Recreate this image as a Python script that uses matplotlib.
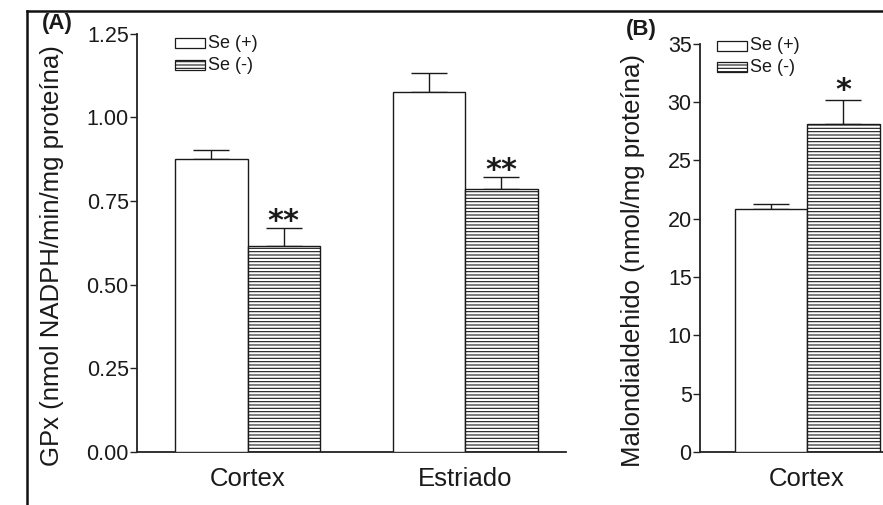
import matplotlib
matplotlib.use("Agg")
import matplotlib.pyplot as plt
from matplotlib.lines import Line2D
from matplotlib.patches import Rectangle
import numpy as np

plt.rcParams['font.family'] = ['Liberation Sans', 'DejaVu Sans']
plt.rcParams['hatch.linewidth'] = 0.8

# ---- data ----
regions_a = ["Cortex", "Estriado"]
gpx_plus = [0.875, 1.075]
gpx_plus_err = [0.027, 0.058]
gpx_minus = [0.615, 0.787]
gpx_minus_err = [0.054, 0.033]
gpx_sig = ["**", "**"]
yticks_a = [0.00, 0.25, 0.50, 0.75, 1.00, 1.25]

regions_b = ["Cortex"]
mda_plus = [20.8]
mda_plus_err = [0.45]
mda_minus = [28.1]
mda_minus_err = [2.1]
mda_sig = ["*"]
yticks_b = [0, 5, 10, 15, 20, 25, 30, 35]

legend_labels = ["Se (+)", "Se (-)"]

W, H = 883, 505
fig = plt.figure(figsize=(W / 100, H / 100), dpi=100)
fig.patch.set_facecolor('white')

def px_axes(left, top, right, bottom):
    return fig.add_axes([left / W, 1 - bottom / H, (right - left) / W, (bottom - top) / H])

bw = 1 / 3.0
px_per_unit = 217.5
INK = '#1a1a1a'

def style(ax, yticks, fmt):
    for s in ['top', 'right']:
        ax.spines[s].set_visible(False)
    for s in ['left', 'bottom']:
        ax.spines[s].set_linewidth(1.3)
        ax.spines[s].set_color('#222222')
    ax.set_yticks(yticks)
    ax.set_yticklabels([fmt.format(v) for v in yticks], fontsize=15.5, color=INK)
    ax.tick_params(axis='y', direction='out', length=5, width=1.0, pad=1, color='#222222')
    ax.tick_params(axis='x', length=0, pad=11)
    ax.set_facecolor('none')

def draw_bars(ax, cats, plus, plus_err, minus, minus_err, sig, sig_off, sig_size):
    x = np.arange(len(cats))
    ax.bar(x - bw / 2, plus, width=bw, color='white', edgecolor=INK, linewidth=1.0, zorder=3)
    ax.bar(x + bw / 2, minus, width=bw, color='white', edgecolor=INK, linewidth=1.0,
           hatch='-----', zorder=3)
    ax.errorbar(x - bw / 2, plus, yerr=[np.zeros(len(x)), plus_err], fmt='none',
                ecolor=INK, elinewidth=1.0, capsize=13, capthick=1.0, zorder=2)
    ax.errorbar(x + bw / 2, minus, yerr=[np.zeros(len(x)), minus_err], fmt='none',
                ecolor=INK, elinewidth=1.0, capsize=13, capthick=1.0, zorder=2)
    for xi, m, e, s in zip(x, minus, minus_err, sig):
        ax.text(xi + bw / 2, m + e + sig_off, s, ha='center', va='bottom',
                fontsize=sig_size, fontweight='bold', color=INK,
                family=['DejaVu Sans'])
    ax.set_xticks(x)
    ax.set_xticklabels(cats, fontsize=18.5, color=INK)

def legend_boxes(x0, y0, dy):
    tr = fig.transFigure
    for i, (lab, hatch) in enumerate(zip(legend_labels, [None, '-----'])):
        yy = y0 + i * dy
        r = Rectangle((x0 / W, 1 - (yy + 5) / H), 30 / W, 10 / H, transform=tr,
                      facecolor='white', edgecolor=INK, linewidth=0.9, hatch=hatch)
        fig.add_artist(r)
        fig.text((x0 + 33) / W, 1 - yy / H, lab, fontsize=13, va='center', ha='left',
                 color=INK)

# ---- Panel A ----
axA = px_axes(137, 33.5, 566, 452)
draw_bars(axA, regions_a, gpx_plus, gpx_plus_err, gpx_minus, gpx_minus_err, gpx_sig, -0.024, 22)
axA.set_ylim(0, 1.25)
axA.set_xlim(-(247.5 - 137) / px_per_unit, -(247.5 - 137) / px_per_unit + (566 - 137) / px_per_unit)
style(axA, yticks_a, "{:.2f}")
axA.set_ylabel("GPx (nmol NADPH/min/mg proteína)", fontsize=18.5, color=INK)
axA.yaxis.set_label_coords((64 - 137) / 429, 0.47)
legend_boxes(175, 43, 22)
fig.text(57 / W, 1 - 24 / H, "(A)", fontsize=16, fontweight='bold', ha='center', va='center',
         color=INK)

# ---- Panel B ----
axB = px_axes(700, 43.7, 900, 452)
draw_bars(axB, regions_b, mda_plus, mda_plus_err, mda_minus, mda_minus_err, mda_sig, -0.45, 22)
axB.set_ylim(0, 35)
axB.set_xlim(-(807 - 700) / px_per_unit, -(807 - 700) / px_per_unit + 200 / px_per_unit)
style(axB, yticks_b, "{:d}")
axB.set_ylabel("Malondialdehido (nmol/mg proteína)", fontsize=18.5, color=INK)
axB.yaxis.set_label_coords((645 - 700) / 200, 0.47)
legend_boxes(717, 46, 21)
fig.text(641 / W, 1 - 30 / H, "(B)", fontsize=16, fontweight='bold', ha='center', va='center',
         color=INK)

# ---- outer frame (top and left) ----
fig.add_artist(Line2D([27 / W, 1], [1 - 11 / H, 1 - 11 / H], transform=fig.transFigure,
                      color='#111111', linewidth=1.8))
fig.add_artist(Line2D([27 / W, 27 / W], [0, 1 - 11 / H], transform=fig.transFigure,
                      color='#111111', linewidth=1.8))

fig.savefig("out.png", dpi=100, facecolor='white')
